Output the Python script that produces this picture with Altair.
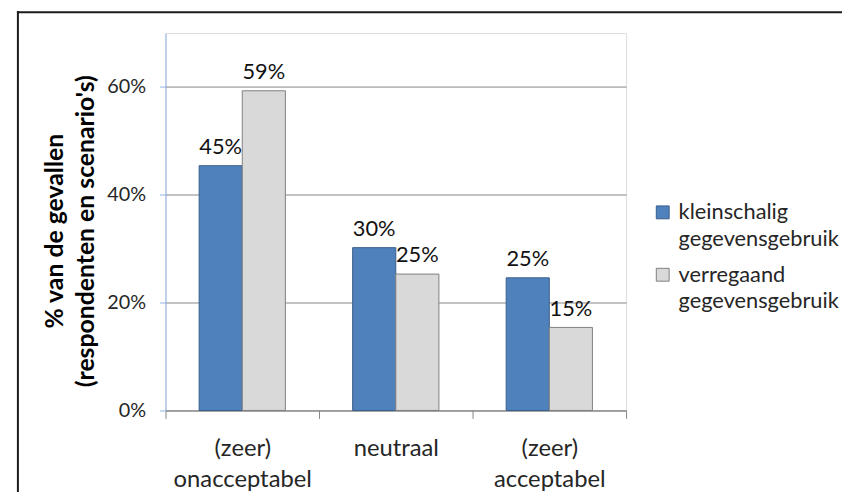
import altair as alt
import pandas as pd

categories = ["(zeer) onacceptabel", "neutraal", "(zeer) acceptabel"]
series = ["kleinschalig gegevensgebruik", "verregaand gegevensgebruik"]
kleinschalig = [0.454, 0.302, 0.246]
verregaand = [0.593, 0.253, 0.154]
y_ticks = [0, 0.2, 0.4, 0.6]
fill_colors = ["#4F81BD", "#D9D9D9"]
stroke_colors = ["#385D8A", "#7F7F7F"]
y_title = ["% van de gevallen", "(respondenten en scenario's)"]

rows = []
for i, c in enumerate(categories):
    rows.append({"cat": c, "serie": series[0], "val": kleinschalig[i]})
    rows.append({"cat": c, "serie": series[1], "val": verregaand[i]})
df = pd.DataFrame(rows)

FONT = "Lato"
W, H = 465, 381

x_enc = alt.X("cat:N", sort=categories, title=None,
              scale=alt.Scale(paddingInner=0, paddingOuter=0),
              axis=alt.Axis(labelAngle=0, tickBand="extent", domainColor="#868686",
                            tickColor="#868686", tickSize=8, labelPadding=18,
                            labelBaseline="top", labelLineHeight=32,
                            labelExpr="split(datum.label, ' ')",
                            labelFontSize=24, labelColor="#262626", labelFont=FONT))
xoff = alt.XOffset("serie:N", sort=series,
                   scale=alt.Scale(paddingInner=0, paddingOuter=0.78))
y_enc = alt.Y("val:Q", scale=alt.Scale(domain=[0, 0.7]),
              axis=alt.Axis(values=y_ticks, format=".0%", title=y_title,
                            titleAngle=270, titleX=-104, titleY=H / 2 + 9,
                            titleAlign="center", titleBaseline="alphabetic",
                            titleLineHeight=31, titleFontSize=25, titleFontWeight="bold",
                            titleFont=FONT, titleColor="#000000",
                            domainColor="#8EB4E3", tickColor="#8EB4E3", tickSize=6,
                            gridColor="#868686", gridWidth=1, labelPadding=14,
                            labelFontSize=20, labelColor="#262626", labelFont=FONT))

legend_kw = dict(title=None, orient="none", legendX=491, legendY=170,
                 symbolType="square", symbolSize=169, symbolStrokeWidth=1,
                 labelFontSize=22, labelFont=FONT, labelColor="#262626",
                 labelLimit=0, labelExpr="split(datum.label, ' ')",
                 labelOffset=5, rowPadding=14)

bars = alt.Chart(df).mark_bar(strokeWidth=1).encode(
    x=x_enc, xOffset=xoff, y=y_enc,
    fill=alt.Fill("serie:N", sort=series, scale=alt.Scale(domain=series, range=fill_colors),
                  legend=alt.Legend(**legend_kw)),
    stroke=alt.Stroke("serie:N", sort=series, scale=alt.Scale(domain=series, range=stroke_colors),
                      legend=alt.Legend(**legend_kw)),
)

labels = alt.Chart(df).mark_text(baseline="alphabetic", dy=-12, fontSize=22, font=FONT,
                                 color="#111111").encode(
    x=alt.X("cat:N", sort=categories), xOffset=xoff, y=alt.Y("val:Q"),
    text=alt.Text("val:Q", format=".0%"),
)

frame_df = pd.DataFrame({"k": [0]})
frame_left = alt.Chart(frame_df).mark_rule(color="#1a1a1a", strokeWidth=2).encode(
    x=alt.value(-149), y=alt.value(-22), y2=alt.value(H + 90))
frame_top = alt.Chart(frame_df).mark_rule(color="#1a1a1a", strokeWidth=2).encode(
    x=alt.value(-150), x2=alt.value(W + 230), y=alt.value(-21))

chart = alt.layer(frame_left, frame_top, bars, labels).properties(
    width=W, height=H,
    autosize=alt.AutoSizeParams(type="none"),
    padding={"left": 159, "top": 23, "right": 218, "bottom": 80},
).configure_view(stroke=None).configure(
    font=FONT, style={"guide-label": {"lineHeight": 27}}
)

chart.save("out.html", embed_options={"renderer": "svg", "actions": False})
